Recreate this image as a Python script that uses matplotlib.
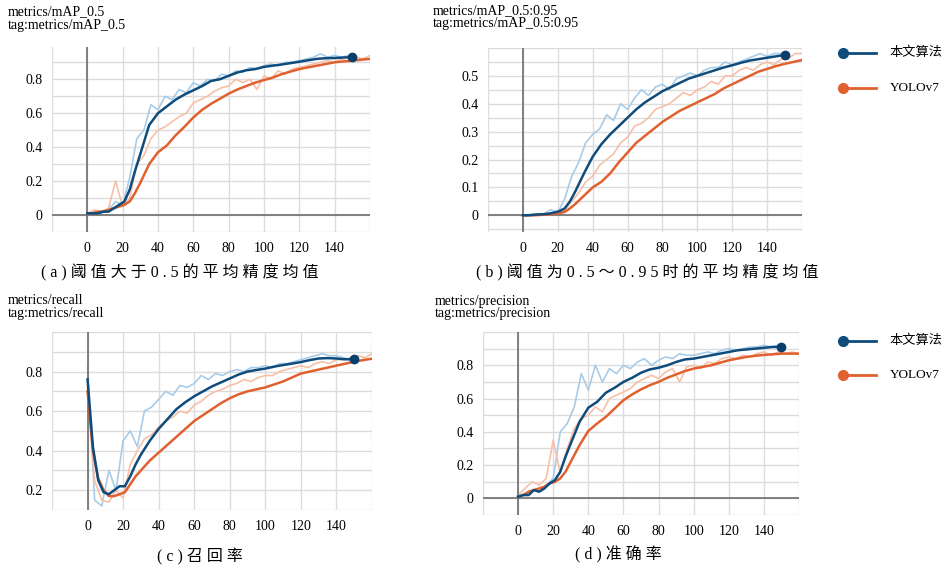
import numpy as np
import matplotlib
matplotlib.use('Agg')
import matplotlib.pyplot as plt
from matplotlib.lines import Line2D

plt.rcParams['font.family'] = ['Liberation Serif', 'Noto Sans CJK SC', 'DejaVu Sans']

# epochs of the smoothed curves
EP_B = [0, 3, 6, 9, 12, 15, 18, 21, 24, 27, 30, 35, 40, 45, 50, 55, 60, 65, 70, 75,
        80, 85, 90, 95, 100, 105, 110, 115, 120, 125, 130, 135, 140, 145, 150]
EP_O = EP_B + [155, 160]

# (a) mAP_0.5
map50_ours = [0.01, 0.01, 0.01, 0.02, 0.02, 0.04, 0.06, 0.08, 0.15, 0.26, 0.36, 0.53, 0.60, 0.64, 0.68,
              0.71, 0.735, 0.76, 0.79, 0.80, 0.82, 0.84, 0.853, 0.86, 0.873, 0.88, 0.887, 0.895, 0.903,
              0.912, 0.92, 0.924, 0.925, 0.928, 0.93]
map50_yolo = [0.01, 0.01, 0.02, 0.02, 0.03, 0.04, 0.05, 0.06, 0.08, 0.13, 0.19, 0.30, 0.37, 0.41, 0.47,
              0.52, 0.575, 0.62, 0.655, 0.685, 0.715, 0.74, 0.76, 0.78, 0.795, 0.81, 0.83, 0.845, 0.86,
              0.87, 0.88, 0.89, 0.90, 0.905, 0.91, 0.915, 0.92]
map50_ours_raw = [0.01, 0.02, 0.01, 0.03, 0.08, 0.06, 0.22, 0.45, 0.50, 0.65, 0.62, 0.70, 0.68, 0.74,
                  0.72, 0.78, 0.76, 0.80, 0.79, 0.83, 0.82, 0.85, 0.84, 0.87, 0.86, 0.88, 0.89, 0.88,
                  0.90, 0.90, 0.91, 0.92, 0.93, 0.95, 0.93, 0.94, 0.93, 0.94]
map50_yolo_raw = [0.01, 0.03, 0.02, 0.04, 0.20, 0.05, 0.10, 0.30, 0.35, 0.45, 0.50, 0.52, 0.55, 0.58,
                  0.60, 0.66, 0.68, 0.70, 0.73, 0.75, 0.76, 0.80, 0.78, 0.80, 0.74, 0.82, 0.80, 0.85,
                  0.83, 0.86, 0.87, 0.88, 0.89, 0.90, 0.91, 0.90, 0.92, 0.90, 0.93, 0.92, 0.94]

# (b) mAP_0.5:0.95
map95_ours = [0, 0, 0.002, 0.003, 0.004, 0.006, 0.01, 0.015, 0.025, 0.05, 0.085, 0.15, 0.21, 0.255, 0.29,
              0.32, 0.35, 0.38, 0.405, 0.425, 0.445, 0.46, 0.475, 0.49, 0.50, 0.51, 0.52, 0.53, 0.538,
              0.547, 0.555, 0.56, 0.565, 0.57, 0.575]
map95_yolo = [0, 0, 0, 0.001, 0.002, 0.003, 0.005, 0.008, 0.012, 0.025, 0.04, 0.07, 0.10, 0.12, 0.15,
              0.19, 0.225, 0.26, 0.285, 0.31, 0.335, 0.355, 0.375, 0.39, 0.405, 0.42, 0.435, 0.455, 0.47,
              0.485, 0.50, 0.515, 0.525, 0.535, 0.543, 0.55, 0.557]
map95_ours_raw = [0, 0, 0.003, 0.005, 0.02, 0.01, 0.06, 0.14, 0.19, 0.26, 0.29, 0.31, 0.36, 0.34, 0.40,
                  0.38, 0.42, 0.45, 0.43, 0.46, 0.47, 0.45, 0.49, 0.50, 0.51, 0.50, 0.52, 0.53, 0.53,
                  0.55, 0.54, 0.55, 0.56, 0.57, 0.58, 0.57, 0.58, 0.58]
map95_yolo_raw = [0, 0, 0, 0.002, 0.005, 0.008, 0.02, 0.05, 0.08, 0.12, 0.14, 0.18, 0.20, 0.22, 0.26,
                  0.28, 0.32, 0.33, 0.35, 0.38, 0.39, 0.40, 0.42, 0.44, 0.43, 0.45, 0.46, 0.48, 0.47,
                  0.50, 0.50, 0.52, 0.53, 0.52, 0.54, 0.55, 0.54, 0.56, 0.56, 0.58, 0.58]

# (c) recall
rec_ours = [0.76, 0.42, 0.25, 0.19, 0.18, 0.20, 0.22, 0.22, 0.27, 0.33, 0.38, 0.45, 0.51, 0.56, 0.61,
            0.645, 0.675, 0.70, 0.725, 0.745, 0.765, 0.785, 0.80, 0.808, 0.815, 0.825, 0.833, 0.84,
            0.848, 0.858, 0.866, 0.868, 0.866, 0.862, 0.862]
rec_yolo = [0.70, 0.40, 0.26, 0.20, 0.17, 0.17, 0.18, 0.19, 0.23, 0.27, 0.30, 0.35, 0.39, 0.43, 0.47,
            0.51, 0.55, 0.58, 0.61, 0.64, 0.665, 0.685, 0.70, 0.71, 0.72, 0.735, 0.75, 0.77, 0.79,
            0.80, 0.81, 0.82, 0.83, 0.84, 0.85, 0.858, 0.865]
rec_ours_raw = [0.82, 0.15, 0.12, 0.30, 0.20, 0.45, 0.50, 0.42, 0.60, 0.62, 0.66, 0.70, 0.68, 0.73,
                0.72, 0.74, 0.78, 0.76, 0.79, 0.78, 0.80, 0.81, 0.80, 0.82, 0.82, 0.83, 0.82, 0.84,
                0.84, 0.85, 0.86, 0.87, 0.88, 0.89, 0.88, 0.88, 0.87, 0.86]
rec_yolo_raw = [0.72, 0.25, 0.15, 0.14, 0.20, 0.16, 0.33, 0.40, 0.46, 0.48, 0.52, 0.55, 0.57, 0.60,
                0.59, 0.63, 0.65, 0.68, 0.70, 0.71, 0.73, 0.74, 0.76, 0.75, 0.77, 0.78, 0.78, 0.80,
                0.81, 0.82, 0.83, 0.82, 0.84, 0.85, 0.84, 0.86, 0.86, 0.87, 0.88, 0.87, 0.89]

# (d) precision
prec_ours = [0.01, 0.02, 0.02, 0.05, 0.04, 0.06, 0.09, 0.11, 0.16, 0.25, 0.33, 0.46, 0.545, 0.58, 0.635,
             0.665, 0.70, 0.725, 0.755, 0.775, 0.785, 0.80, 0.82, 0.835, 0.84, 0.85, 0.86, 0.87, 0.88,
             0.89, 0.895, 0.90, 0.905, 0.91, 0.91]
prec_yolo = [0.01, 0.02, 0.04, 0.05, 0.06, 0.07, 0.09, 0.10, 0.12, 0.16, 0.22, 0.32, 0.405, 0.45, 0.49,
             0.54, 0.59, 0.625, 0.655, 0.68, 0.70, 0.725, 0.745, 0.765, 0.78, 0.79, 0.80, 0.815, 0.83,
             0.84, 0.85, 0.857, 0.862, 0.866, 0.87, 0.87, 0.87]
prec_ours_raw = [0.01, 0.03, 0.05, 0.04, 0.08, 0.12, 0.40, 0.45, 0.55, 0.75, 0.65, 0.80, 0.70, 0.78,
                 0.75, 0.80, 0.78, 0.82, 0.84, 0.80, 0.83, 0.85, 0.84, 0.87, 0.86, 0.86, 0.87, 0.88,
                 0.87, 0.89, 0.90, 0.89, 0.90, 0.91, 0.91, 0.92, 0.91, 0.92]
prec_yolo_raw = [0.02, 0.06, 0.10, 0.08, 0.12, 0.35, 0.15, 0.30, 0.42, 0.48, 0.50, 0.55, 0.52, 0.60,
                 0.62, 0.64, 0.66, 0.70, 0.72, 0.74, 0.72, 0.76, 0.78, 0.70, 0.79, 0.80, 0.78, 0.82,
                 0.81, 0.84, 0.85, 0.84, 0.86, 0.85, 0.87, 0.88, 0.86, 0.88, 0.87, 0.88, 0.87]

headers = [['metrics/mAP_0.5', 'tag:metrics/mAP_0.5'],
           ['metrics/mAP_0.5:0.95', 'tag:metrics/mAP_0.5:0.95'],
           ['metrics/recall', 'tag:metrics/recall'],
           ['metrics/precision', 'tag:metrics/precision']]
captions = ['(a)阈值大于0.5的平均精度均值', '(b)阈值为0.5～0.95时的平均精度均值',
            '(c)召回率', '(d)准确率']
labels = ['本文算法', 'YOLOv7']

BLUE = '#0f4c7c'
ORANGE = '#e0612f'
BLUE_L = '#a8cce8'
ORANGE_L = '#f6c0a8'

W, H = 945, 568
fig = plt.figure(figsize=(9.45, 5.68), dpi=100)


def px_axes(l, t, r, b):
    return fig.add_axes([l / W, 1 - b / H, (r - l) / W, (b - t) / H])


panels = [
    dict(box=(52, 47, 370, 232), ylim=(-0.1, 0.99), yt=[0, 0.2, 0.4, 0.6, 0.8], ystep=0.1,
         data=(map50_ours, map50_yolo, map50_ours_raw, map50_yolo_raw), zero=True,
         head=(8, 12), cap=(180, 273)),
    dict(box=(488, 48, 802, 232), ylim=(-0.06, 0.6), yt=[0, 0.1, 0.2, 0.3, 0.4, 0.5], ystep=0.05,
         data=(map95_ours, map95_yolo, map95_ours_raw, map95_yolo_raw), zero=True,
         head=(433, 11), cap=(647, 273)),
    dict(box=(52, 332, 372, 510), ylim=(0.1, 1.0), yt=[0.2, 0.4, 0.6, 0.8], ystep=0.1,
         data=(rec_ours, rec_yolo, rec_ours_raw, rec_yolo_raw), zero=False,
         head=(8, 300), cap=(200, 557)),
    dict(box=(483, 332, 799, 515), ylim=(-0.1, 1.0), yt=[0, 0.2, 0.4, 0.6, 0.8], ystep=0.1,
         data=(prec_ours, prec_yolo, prec_ours_raw, prec_yolo_raw), zero=True,
         head=(435, 301), cap=(618, 555)),
]

for i, p in enumerate(panels):
    ax = px_axes(*p['box'])
    ours, yolo, ours_raw, yolo_raw = p['data']
    ax.plot(4 * np.arange(len(ours_raw)), ours_raw, color=BLUE_L, lw=1.2, zorder=2)
    ax.plot(4 * np.arange(len(yolo_raw)), yolo_raw, color=ORANGE_L, lw=1.2, zorder=2)
    ax.plot(EP_O, yolo, color=ORANGE, lw=1.8, zorder=4)
    ax.plot(EP_B, ours, color=BLUE, lw=1.8, zorder=5)
    ax.plot([EP_B[-1]], [ours[-1]], 'o', color='#0a3f6b', ms=6, zorder=6)

    ax.set_xlim(-20, 160)
    ax.set_ylim(*p['ylim'])
    ax.set_xticks(range(0, 141, 20))
    ax.set_xticks([-20, 160], minor=True)
    ax.set_yticks(p['yt'])
    ax.set_yticklabels(['0' if v == 0 else f'{v:g}' for v in p['yt']])
    lo = np.ceil(p['ylim'][0] / p['ystep'] - 1e-6) * p['ystep']
    ax.set_yticks(np.arange(lo, p['ylim'][1] + 1e-6, p['ystep']), minor=True)
    ax.grid(True, which='both', color='#dcdcdc', lw=1.0, zorder=0)
    ax.tick_params(which='both', length=0, labelsize=10, pad=7)
    for s in ax.spines.values():
        s.set_visible(False)
    ax.axvline(0, color='#777777', lw=1.3, zorder=3)
    if p['zero']:
        ax.axhline(0, color='#777777', lw=1.3, zorder=3)

    hx, hy = p['head']
    fig.text(hx / W, 1 - hy / H, headers[i][0], fontsize=10, va='center', ha='left')
    fig.text(hx / W, 1 - (hy + 13) / H, headers[i][1], fontsize=10, va='center', ha='left')
    cx, cy = p['cap']
    fig.text(cx / W, 1 - cy / H, ' '.join(captions[i]), fontsize=11.5, va='center', ha='center')

# legends on the right
for ly in [(53, 88), (341, 375)]:
    for yy, col, lab in zip(ly, [BLUE, ORANGE], labels):
        fig.add_artist(Line2D([843 / W, 876 / W], [1 - yy / H, 1 - yy / H], color=col, lw=2))
        fig.add_artist(Line2D([843 / W], [1 - yy / H], marker='o', color=col, ms=7))
        fig.text(890 / W, 1 - yy / H, lab, fontsize=9.5, va='center', ha='left')

fig.savefig('out.png', dpi=100)
